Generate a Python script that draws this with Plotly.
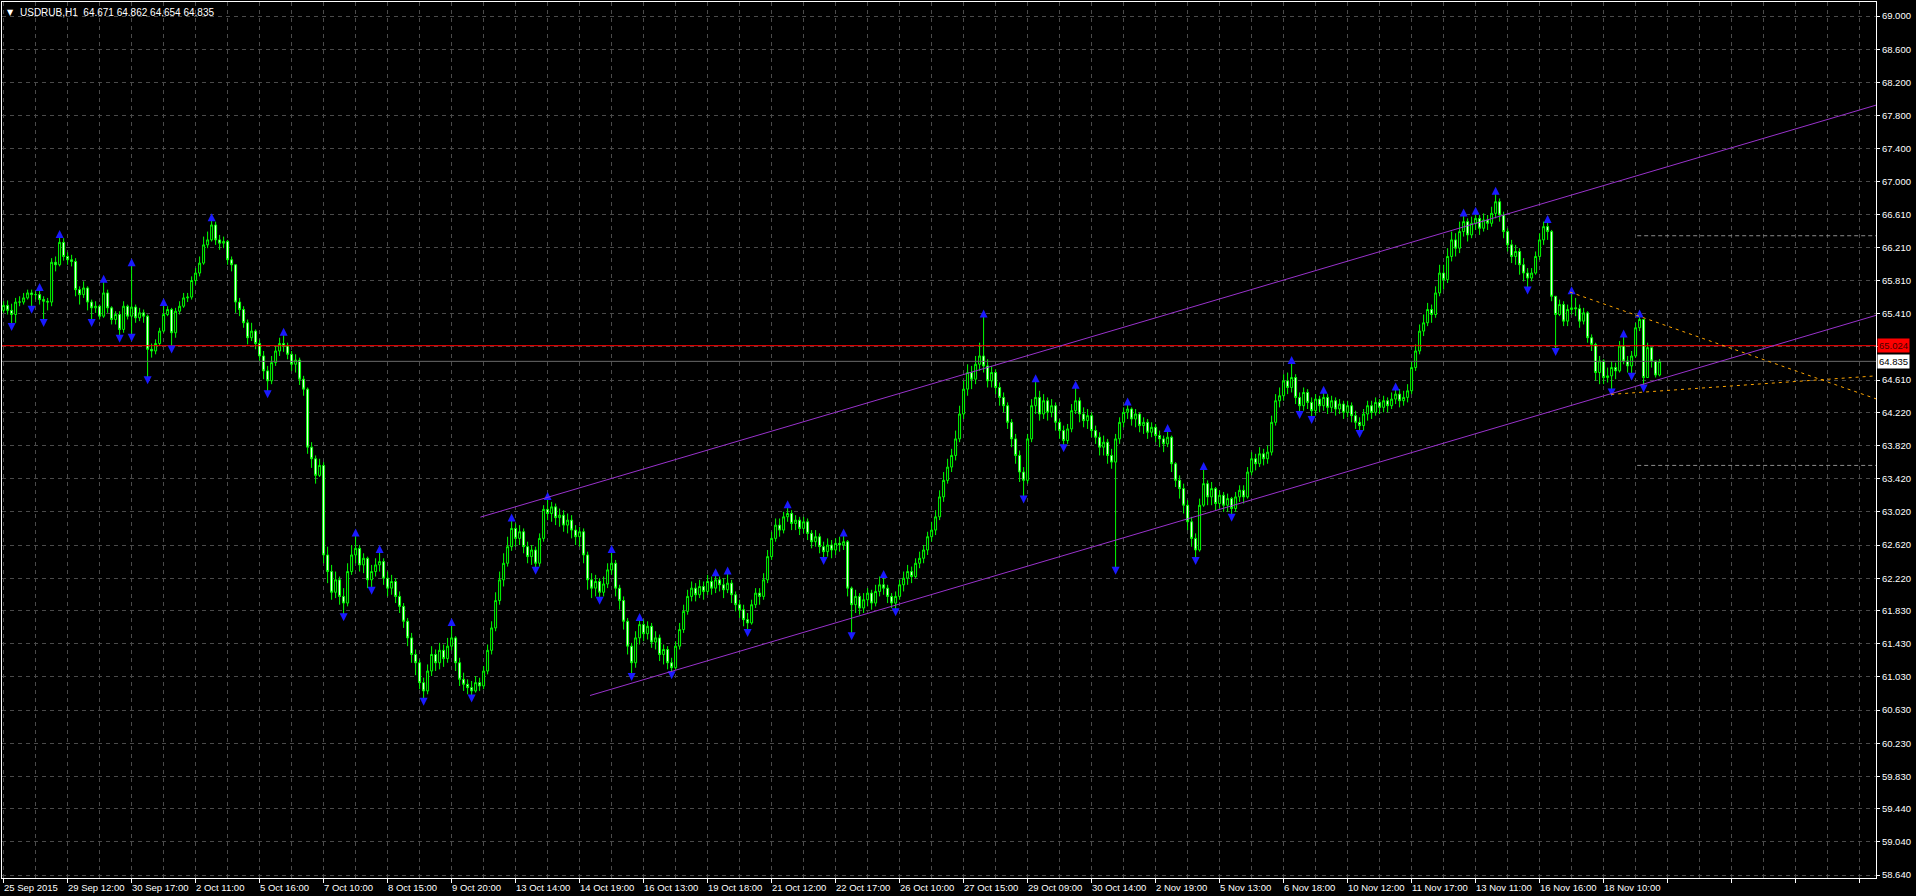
import plotly.graph_objects as go

# ---------------- data ----------------
first_open = 65.45

closes = [
    65.51, 65.45, 65.40, 65.55, 65.55, 65.60, 65.66, 65.64, 65.64, 65.58,
    65.56, 65.55, 66.03, 66.00, 66.27, 66.10, 66.06, 66.04, 65.70, 65.64,
    65.72, 65.55, 65.48, 65.50, 65.38, 65.66, 65.48, 65.34, 65.40, 65.22,
    65.50, 65.38, 65.49, 65.36, 65.42, 65.38, 64.98, 64.96, 65.05, 65.20,
    65.40, 65.46, 65.18, 65.44, 65.50, 65.60, 65.61, 65.81, 65.90, 66.02,
    66.24, 66.30, 66.48, 66.30, 66.26, 66.28, 66.06, 66.00, 65.55, 65.46,
    65.30, 65.12, 65.20, 65.05, 64.90, 64.72, 64.60, 64.82, 64.96, 65.05,
    65.02, 64.92, 64.80, 64.85, 64.62, 64.50, 63.80, 63.66, 63.46, 63.58,
    62.50, 62.30, 62.05, 62.20, 62.00, 61.92, 62.30, 62.50, 62.58, 62.38,
    62.46, 62.20, 62.30, 62.38, 62.42, 62.22, 62.10, 62.18, 62.00, 61.88,
    61.70, 61.50, 61.30, 61.20, 60.96, 60.86, 61.10, 61.30, 61.20, 61.35,
    61.25, 61.40, 61.50, 61.20, 61.00, 60.94, 60.90, 60.86, 60.96, 60.92,
    61.10, 61.35, 61.62, 61.95, 62.20, 62.40, 62.60, 62.82, 62.70, 62.78,
    62.60, 62.48, 62.56, 62.40, 62.70, 63.05, 63.00, 63.08, 62.95, 62.98,
    62.86, 62.92, 62.80, 62.72, 62.78, 62.50, 62.20, 62.10, 62.18, 62.05,
    62.15, 62.32, 62.40, 62.10, 61.95, 61.70, 61.40, 61.20, 61.50, 61.66,
    61.55, 61.64, 61.45, 61.50, 61.30, 61.36, 61.20, 61.14, 61.40, 61.60,
    61.82, 62.00, 62.10, 62.02, 62.12, 62.06, 62.18, 62.10, 62.20, 62.14,
    62.08, 62.16, 62.02, 61.90, 61.84, 61.72, 61.68, 61.90, 62.04, 62.00,
    62.20, 62.48, 62.70, 62.86, 62.80, 62.96, 63.00, 62.88, 62.92, 62.82,
    62.90, 62.76, 62.66, 62.72, 62.60, 62.54, 62.62, 62.56, 62.64, 62.62,
    62.66, 62.10, 61.90, 62.00, 61.86, 61.96, 62.04, 61.92, 62.06, 62.14,
    62.10, 62.00, 61.92, 62.00, 62.14, 62.22, 62.30, 62.24, 62.40, 62.46,
    62.56, 62.72, 62.80, 62.96, 63.20, 63.40, 63.56, 63.70, 63.90, 64.20,
    64.50, 64.70, 64.62, 64.80, 64.90, 64.78, 64.60, 64.70, 64.52, 64.40,
    64.30, 64.10, 63.90, 63.70, 63.50, 63.40, 63.90, 64.30, 64.40, 64.20,
    64.36, 64.22, 64.30, 64.10, 64.00, 63.88, 64.02, 64.24, 64.36, 64.20,
    64.12, 64.18, 64.00, 63.92, 63.80, 63.86, 63.70, 63.62, 63.90, 64.10,
    64.22, 64.26, 64.14, 64.20, 64.06, 64.10, 63.98, 64.04, 63.94, 63.90,
    63.84, 63.92, 63.60, 63.40, 63.30, 63.10, 62.90, 62.70, 62.56, 63.10,
    63.36, 63.20, 63.30, 63.12, 63.22, 63.10, 63.18, 63.06, 63.20, 63.28,
    63.20, 63.50, 63.66, 63.60, 63.72, 63.66, 63.74, 64.10, 64.36, 64.42,
    64.60, 64.52, 64.64, 64.40, 64.30, 64.46, 64.34, 64.24, 64.38, 64.30,
    64.40, 64.28, 64.36, 64.26, 64.32, 64.22, 64.30, 64.18, 64.10, 64.06,
    64.20, 64.30, 64.22, 64.34, 64.28, 64.36, 64.30, 64.38, 64.44, 64.36,
    64.40, 64.48, 64.76, 64.96, 65.20, 65.30, 65.46, 65.40, 65.66, 65.90,
    65.82, 66.10, 66.30, 66.20, 66.40, 66.52, 66.36, 66.50, 66.56, 66.44,
    66.54, 66.50, 66.62, 66.76, 66.60, 66.40, 66.24, 66.10, 66.16, 66.00,
    65.90, 65.84, 65.90, 66.10, 66.30, 66.46, 66.40, 65.62, 65.40, 65.52,
    65.32, 65.46, 65.48, 65.47, 65.32, 65.42, 65.12, 65.04, 64.70, 64.84,
    64.64, 64.66, 64.76, 64.72, 65.02, 64.84, 64.78, 64.90, 65.24, 65.34,
    64.64, 65.00, 64.84, 64.67, 64.835,
]

highs = [
    65.56, 65.57, 65.53, 65.60, 65.62, 65.66, 65.70, 65.70, 65.68, 65.72,
    65.62, 65.60, 66.08, 66.10, 66.36, 66.32, 66.15, 66.12, 66.08, 65.74,
    65.80, 65.74, 65.58, 65.56, 65.52, 65.82, 65.70, 65.50, 65.44, 65.44,
    65.56, 65.52, 66.02, 65.52, 65.48, 65.46, 65.40, 65.05, 65.10, 65.24,
    65.54, 65.50, 65.48, 65.48, 65.56, 65.66, 65.66, 65.86, 65.96, 66.10,
    66.34, 66.40, 66.56, 66.52, 66.36, 66.34, 66.30, 66.10, 65.88, 65.60,
    65.50, 65.34, 65.30, 65.22, 65.10, 64.96, 64.78, 64.90, 65.02, 65.12,
    65.18, 65.06, 64.96, 64.92, 64.88, 64.66, 64.52, 63.86, 63.70, 63.66,
    63.62, 62.60, 62.38, 62.30, 62.24, 62.10, 62.40, 62.62, 62.76, 62.62,
    62.52, 62.48, 62.38, 62.46, 62.56, 62.46, 62.30, 62.26, 62.22, 62.06,
    61.92, 61.74, 61.56, 61.36, 61.24, 61.02, 61.18, 61.40, 61.36, 61.44,
    61.42, 61.50, 61.68, 61.52, 61.26, 61.08, 61.00, 60.98, 61.04, 61.02,
    61.16, 61.42, 61.70, 62.05, 62.30, 62.52, 62.72, 62.94, 62.88, 62.86,
    62.82, 62.66, 62.62, 62.60, 62.76, 63.10, 63.20, 63.14, 63.12, 63.06,
    63.04, 63.00, 62.98, 62.86, 62.84, 62.82, 62.54, 62.28, 62.26, 62.22,
    62.24, 62.40, 62.56, 62.44, 62.14, 62.00, 61.74, 61.44, 61.58, 61.74,
    61.72, 61.70, 61.68, 61.58, 61.54, 61.42, 61.40, 61.26, 61.46, 61.68,
    61.90, 62.08, 62.18, 62.16, 62.20, 62.18, 62.26, 62.24, 62.28, 62.24,
    62.22, 62.30, 62.20, 62.06, 61.96, 61.90, 61.80, 61.96, 62.10, 62.10,
    62.28, 62.56, 62.78, 62.94, 62.94, 63.02, 63.10, 63.04, 62.98, 62.96,
    62.96, 62.94, 62.80, 62.80, 62.76, 62.66, 62.70, 62.68, 62.70, 62.72,
    62.76, 62.68, 62.12, 62.08, 62.04, 62.04, 62.10, 62.08, 62.14, 62.24,
    62.26, 62.14, 62.04, 62.06, 62.20, 62.30, 62.38, 62.36, 62.46, 62.54,
    62.62, 62.78, 62.90, 63.04, 63.28, 63.50, 63.66, 63.78, 64.00, 64.30,
    64.60, 64.80, 64.78, 64.90, 65.06, 65.40, 64.86, 64.78, 64.74, 64.58,
    64.46, 64.34, 64.14, 63.96, 63.76, 63.56, 63.96, 64.38, 64.62, 64.48,
    64.44, 64.40, 64.38, 64.34, 64.14, 64.06, 64.08, 64.32, 64.54, 64.40,
    64.28, 64.26, 64.22, 64.06, 63.98, 63.94, 63.90, 63.78, 63.96, 64.16,
    64.28, 64.34, 64.28, 64.26, 64.22, 64.16, 64.14, 64.10, 64.08, 64.00,
    63.94, 64.02, 63.94, 63.62, 63.46, 63.36, 63.16, 62.96, 62.76, 63.18,
    63.56, 63.40, 63.38, 63.32, 63.28, 63.26, 63.24, 63.20, 63.26, 63.34,
    63.34, 63.56, 63.74, 63.72, 63.80, 63.78, 63.82, 64.18, 64.44, 64.52,
    64.68, 64.70, 64.84, 64.68, 64.46, 64.52, 64.50, 64.40, 64.44, 64.42,
    64.48, 64.44, 64.42, 64.40, 64.38, 64.36, 64.36, 64.34, 64.24, 64.16,
    64.26, 64.36, 64.36, 64.40, 64.38, 64.42, 64.40, 64.46, 64.52, 64.50,
    64.48, 64.56, 64.84, 65.04, 65.28, 65.40, 65.54, 65.52, 65.74, 66.00,
    66.00, 66.20, 66.40, 66.38, 66.52, 66.62, 66.56, 66.58, 66.64, 66.60,
    66.62, 66.60, 66.70, 66.88, 66.80, 66.64, 66.44, 66.30, 66.24, 66.20,
    66.08, 65.96, 65.96, 66.16, 66.38, 66.52, 66.54, 66.42, 65.56, 65.58,
    65.56, 65.52, 65.68, 65.60, 65.52, 65.48, 65.44, 65.16, 65.06, 64.90,
    64.86, 64.76, 64.84, 64.82, 65.08, 65.16, 64.90, 64.96, 65.30, 65.40,
    65.06, 65.06, 65.00, 64.80, 64.862,
]

lows = [
    65.42, 65.40, 65.26, 65.30, 65.50, 65.52, 65.58, 65.47, 65.58, 65.52,
    65.31, 65.45, 65.50, 65.92, 65.98, 66.05, 66.00, 65.98, 65.62, 65.52,
    65.60, 65.45, 65.31, 65.42, 65.34, 65.36, 65.42, 65.28, 65.28, 65.12,
    65.18, 65.34, 65.13, 65.30, 65.32, 65.30, 64.62, 64.88, 64.92, 65.02,
    65.18, 65.38, 64.99, 65.12, 65.40, 65.48, 65.55, 65.58, 65.76, 65.86,
    66.00, 66.20, 66.28, 66.24, 66.18, 66.20, 66.00, 65.92, 65.42, 65.38,
    65.24, 65.04, 65.08, 64.98, 64.84, 64.62, 64.45, 64.56, 64.78, 64.90,
    64.95, 64.86, 64.72, 64.70, 64.55, 64.42, 63.72, 63.55, 63.36, 63.44,
    62.40, 62.16, 61.96, 61.98, 61.90, 61.76, 61.88, 62.26, 62.40, 62.30,
    62.28, 62.10, 62.08, 62.24, 62.30, 62.14, 62.00, 62.02, 61.92, 61.80,
    61.62, 61.40, 61.20, 61.05, 60.88, 60.74, 60.82, 61.04, 61.10, 61.12,
    61.15, 61.20, 61.35, 61.10, 60.92, 60.86, 60.82, 60.78, 60.84, 60.86,
    60.88, 61.06, 61.30, 61.58, 61.90, 62.12, 62.36, 62.55, 62.60, 62.62,
    62.52, 62.40, 62.38, 62.32, 62.36, 62.66, 62.92, 62.90, 62.86, 62.84,
    62.78, 62.76, 62.70, 62.62, 62.60, 62.40, 62.08, 61.98, 62.00, 61.96,
    62.00, 62.10, 62.26, 62.00, 61.84, 61.60, 61.30, 61.04, 61.14, 61.42,
    61.46, 61.48, 61.38, 61.36, 61.22, 61.18, 61.12, 61.06, 61.12, 61.36,
    61.56, 61.78, 61.94, 61.94, 61.98, 61.96, 62.02, 62.02, 62.04, 62.06,
    61.98, 62.04, 61.92, 61.82, 61.74, 61.64, 61.57, 61.66, 61.86, 61.90,
    61.96, 62.16, 62.44, 62.66, 62.72, 62.76, 62.90, 62.80, 62.80, 62.74,
    62.76, 62.68, 62.58, 62.60, 62.52, 62.44, 62.48, 62.46, 62.50, 62.54,
    62.56, 62.00, 61.53, 61.80, 61.78, 61.80, 61.88, 61.84, 61.88, 62.00,
    62.02, 61.92, 61.86, 61.82, 61.96, 62.06, 62.14, 62.16, 62.22, 62.34,
    62.40, 62.50, 62.66, 62.74, 62.92, 63.14, 63.36, 63.50, 63.64, 63.86,
    64.14, 64.42, 64.50, 64.56, 64.72, 64.70, 64.52, 64.52, 64.44, 64.30,
    64.22, 64.02, 63.80, 63.60, 63.38, 63.18, 63.36, 63.86, 64.20, 64.12,
    64.14, 64.12, 64.16, 64.00, 63.90, 63.80, 63.84, 63.98, 64.20, 64.10,
    64.04, 64.02, 63.92, 63.84, 63.70, 63.70, 63.60, 63.54, 62.32, 63.84,
    64.04, 64.14, 64.06, 64.04, 63.98, 63.96, 63.90, 63.92, 63.86, 63.80,
    63.74, 63.80, 63.50, 63.32, 63.18, 63.00, 62.80, 62.60, 62.44, 62.54,
    63.08, 63.10, 63.10, 63.04, 63.06, 63.02, 63.02, 62.96, 63.02, 63.14,
    63.12, 63.18, 63.46, 63.52, 63.56, 63.58, 63.60, 63.70, 64.06, 64.28,
    64.36, 64.44, 64.46, 64.32, 64.20, 64.24, 64.26, 64.14, 64.18, 64.22,
    64.24, 64.20, 64.22, 64.18, 64.20, 64.14, 64.16, 64.10, 64.02, 63.97,
    64.00, 64.12, 64.14, 64.18, 64.20, 64.22, 64.22, 64.26, 64.32, 64.28,
    64.30, 64.34, 64.44, 64.72, 64.92, 65.14, 65.26, 65.30, 65.36, 65.62,
    65.70, 65.78, 66.04, 66.10, 66.14, 66.34, 66.28, 66.32, 66.42, 66.36,
    66.40, 66.42, 66.46, 66.56, 66.52, 66.32, 66.16, 66.02, 66.00, 65.88,
    65.80, 65.70, 65.80, 65.88, 66.06, 66.24, 66.30, 65.56, 64.96, 65.38,
    65.26, 65.26, 65.40, 65.38, 65.24, 65.28, 65.06, 64.96, 64.60, 64.56,
    64.56, 64.58, 64.47, 64.62, 64.70, 64.80, 64.70, 64.66, 64.88, 65.20,
    64.52, 64.88, 64.76, 64.64, 64.654,
]

time_labels = [
    "25 Sep 2015", "29 Sep 12:00", "30 Sep 17:00", "2 Oct 11:00", "5 Oct 16:00",
    "7 Oct 10:00", "8 Oct 15:00", "9 Oct 20:00", "13 Oct 14:00", "14 Oct 19:00",
    "16 Oct 13:00", "19 Oct 18:00", "21 Oct 12:00", "22 Oct 17:00", "26 Oct 10:00",
    "27 Oct 15:00", "29 Oct 09:00", "30 Oct 14:00", "2 Nov 19:00", "5 Nov 13:00",
    "6 Nov 18:00", "10 Nov 12:00", "11 Nov 17:00", "13 Nov 11:00", "16 Nov 16:00",
    "18 Nov 10:00",
]
bars_per_label = 16
bars_per_grid = 8

y_tick_vals = [69.000, 68.600, 68.200, 67.800, 67.400, 67.000, 66.610, 66.210,
               65.810, 65.410, 65.015, 64.610, 64.220, 63.820, 63.420, 63.020,
               62.620, 62.220, 61.830, 61.430, 61.030, 60.630, 60.230, 59.830,
               59.440, 59.040, 58.640]
y_tick_text = ["69.000", "68.600", "68.200", "67.800", "67.400", "67.000", "66.610",
               "66.210", "65.810", "65.410", "", "64.610", "64.220", "63.820",
               "63.420", "63.020", "62.620", "62.220", "61.830", "61.430", "61.030",
               "60.630", "60.230", "59.830", "59.440", "59.040", "58.640"]

ask_price = 65.024
bid_price = 64.835
title_text = "USDRUB,H1  64.671 64.862 64.654 64.835"

# drawn objects (bar index, price)
channel_upper_x = [119.2, 468.1]
channel_upper_y = [62.956, 67.925]
channel_lower_x = [146.6, 468.1]
channel_lower_y = [60.805, 65.390]
tri_upper_x = [391.6, 468.1]
tri_upper_y = [65.67, 64.383]
tri_lower_x = [401.9, 468.1]
tri_lower_y = [64.437, 64.660]
level_x = [408.4, 468.1]
level_high = 66.35
level_low = 63.58

x_range = [-0.4, 468.1]
y_range = [58.604, 69.169]

# ---------------- build ----------------
n = len(closes)
xs = list(range(n))
opens = [first_open] + closes[:-1]
hi = [max(h, o, c) for h, o, c in zip(highs, opens, closes)]
lo = [min(l, o, c) for l, o, c in zip(lows, opens, closes)]

frac_up_x, frac_up_y, frac_dn_x, frac_dn_y = [], [], [], []
for i in range(2, n - 2):
    if all(hi[i] > hi[j] for j in (i - 2, i - 1, i + 1, i + 2)):
        frac_up_x.append(i); frac_up_y.append(hi[i] + 0.06)
    if all(lo[i] < lo[j] for j in (i - 2, i - 1, i + 1, i + 2)):
        frac_dn_x.append(i); frac_dn_y.append(lo[i] - 0.06)

GRID = "#4a4a4a"
FONT = "Liberation Sans"

fig = go.Figure()

# price lines
fig.add_trace(go.Scatter(x=x_range, y=[ask_price, ask_price], mode="lines",
                         line=dict(color="#FF0000", width=1), hoverinfo="skip"))
fig.add_trace(go.Scatter(x=x_range, y=[bid_price, bid_price], mode="lines",
                         line=dict(color="#6a6a6a", width=1), hoverinfo="skip"))

fig.add_trace(go.Candlestick(
    x=xs, open=opens, high=hi, low=lo, close=closes,
    increasing=dict(line=dict(color="#00FF00", width=1), fillcolor="#000000"),
    decreasing=dict(line=dict(color="#00FF00", width=1), fillcolor="#FFFFFF"),
    whiskerwidth=0, hoverinfo="skip"))

# fractals
fig.add_trace(go.Scatter(x=frac_up_x, y=frac_up_y, mode="markers",
                         marker=dict(symbol="arrow-up", size=8, color="#1a1aff", line=dict(width=0)),
                         hoverinfo="skip"))
fig.add_trace(go.Scatter(x=frac_dn_x, y=frac_dn_y, mode="markers",
                         marker=dict(symbol="arrow-down", size=8, color="#1a1aff", line=dict(width=0)),
                         hoverinfo="skip"))

# channel
fig.add_trace(go.Scatter(x=channel_upper_x, y=channel_upper_y, mode="lines",
                         line=dict(color="#9932CC", width=1), hoverinfo="skip"))
fig.add_trace(go.Scatter(x=channel_lower_x, y=channel_lower_y, mode="lines",
                         line=dict(color="#9932CC", width=1), hoverinfo="skip"))
# triangle
fig.add_trace(go.Scatter(x=tri_upper_x, y=tri_upper_y, mode="lines",
                         line=dict(color="#FFA500", width=1, dash="3px,4px"), hoverinfo="skip"))
fig.add_trace(go.Scatter(x=tri_lower_x, y=tri_lower_y, mode="lines",
                         line=dict(color="#FFA500", width=1, dash="3px,4px"), hoverinfo="skip"))
# levels
for lv in (level_high, level_low):
    fig.add_trace(go.Scatter(x=level_x, y=[lv, lv], mode="lines",
                             line=dict(color="#8c8c8c", width=1, dash="4px,3px"), hoverinfo="skip"))

annotations = []
for k, lab in enumerate(time_labels):
    annotations.append(dict(x=k * bars_per_label, y=0, xref="x", yref="paper",
                            text=lab, showarrow=False, xanchor="left", yanchor="top",
                            xshift=-2, yshift=-2,
                            font=dict(color="white", size=9.5, family=FONT)))
annotations.append(dict(x=0, y=1, xref="paper", yref="paper", text="▼",
                        showarrow=False, xanchor="left", yanchor="top", xshift=3, yshift=-4,
                        font=dict(color="white", size=8, family="DejaVu Sans")))
annotations.append(dict(x=0, y=1, xref="paper", yref="paper", text=title_text,
                        showarrow=False, xanchor="left", yanchor="top", xshift=16, yshift=-3,
                        font=dict(color="white", size=10, family=FONT)))
annotations.append(dict(x=1, y=ask_price, xref="paper", yref="y", text="%.3f" % ask_price,
                        showarrow=False, xanchor="left", yanchor="middle", xshift=1,
                        bgcolor="#FF0000", borderpad=1,
                        font=dict(color="#4a0000", size=9.5, family=FONT)))
annotations.append(dict(x=1, y=bid_price, xref="paper", yref="y", text="%.3f" % bid_price,
                        showarrow=False, xanchor="left", yanchor="middle", xshift=1,
                        bgcolor="#FFFFFF", borderpad=1,
                        font=dict(color="#000000", size=9.5, family=FONT)))

fig.update_layout(
    width=1916, height=896,
    margin=dict(l=2, r=40, t=2, b=18),
    paper_bgcolor="#000000", plot_bgcolor="#000000",
    showlegend=False,
    annotations=annotations,
    xaxis=dict(range=x_range, rangeslider=dict(visible=False),
               tickmode="linear", tick0=0, dtick=bars_per_label,
               showticklabels=False, ticks="outside", ticklen=4, tickcolor="white",
               showgrid=True, gridcolor=GRID, griddash="4px,4px", gridwidth=1,
               minor=dict(tickmode="linear", tick0=0, dtick=bars_per_grid, showgrid=True,
                          gridcolor=GRID, griddash="4px,4px", ticks=""),
               showline=True, linecolor="white", linewidth=1, mirror=True, zeroline=False),
    yaxis=dict(side="right", range=y_range, tickmode="array",
               tickvals=y_tick_vals, ticktext=y_tick_text,
               ticks="outside", ticklen=3, tickcolor="white",
               tickfont=dict(color="white", size=9.5, family=FONT),
               showgrid=True, gridcolor=GRID, griddash="4px,4px",
               showline=True, linecolor="white", linewidth=1, mirror=True, zeroline=False),
)

fig.write_html("out.html", config={"displayModeBar": False},
               post_script="document.body.style.margin='0';document.body.style.background='#000';")
